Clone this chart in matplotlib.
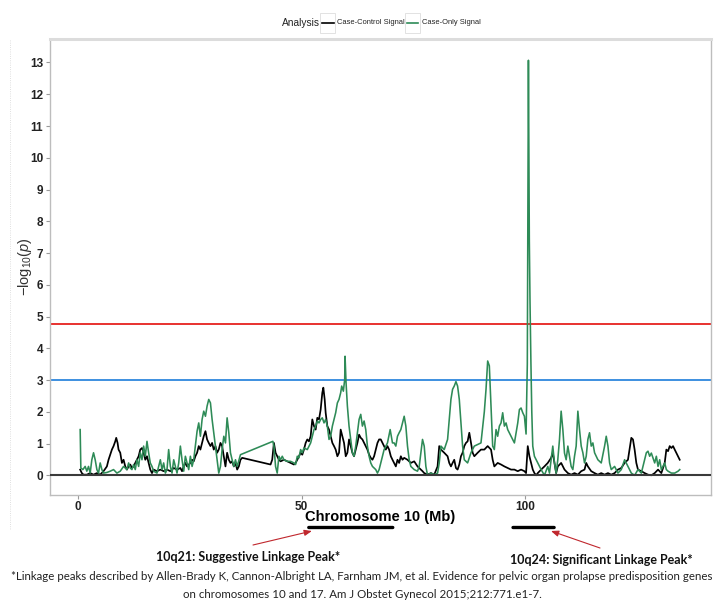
import numpy as np
import matplotlib
matplotlib.use("Agg")
import matplotlib.pyplot as plt
from matplotlib.lines import Line2D
from matplotlib.patches import Rectangle

plt.rcParams['font.family'] = ['Liberation Sans', 'DejaVu Sans']
plt.rcParams['mathtext.fontset'] = 'custom'
plt.rcParams['mathtext.rm'] = 'Liberation Sans'
plt.rcParams['mathtext.it'] = 'Liberation Sans:italic'

# (position in Mb, -log10 p)
case_control = [(0.45,0.18),(0.82,0.07),(1.2,0.02),(1.94,0.02),(2.69,0.07),(3.44,0.02),(4.19,0.07),(4.93,0.02),
    (5.68,0.13),(6.43,0.28),(6.8,0.49),(7.17,0.65),(7.55,0.81),(7.92,0.92),(8.3,1.07),(8.52,1.18),(8.82,1.02),
    (9.04,0.81),(9.42,0.71),(9.79,0.39),(10.16,0.49),(10.54,0.28),(10.91,0.18),(11.29,0.28),(11.66,0.34),
    (12.03,0.23),(12.41,0.28),(12.78,0.39),(13.15,0.49),(13.53,0.6),(13.9,0.81),(14.28,0.86),(14.65,0.71),
    (15.02,0.49),(15.4,0.6),(15.77,0.39),(16.14,0.18),(16.52,0.07),(16.89,0.18),(17.64,0.13),(18.39,0.18),
    (19.13,0.13),(19.88,0.18),(20.63,0.13),(21.38,0.23),(22.12,0.18),(22.87,0.23),(23.24,0.13),(23.62,0.28),
    (23.99,0.39),(24.36,0.28),(25.11,0.39),(25.49,0.49),(25.86,0.44),(26.23,0.6),(26.61,0.71),(26.98,0.92),
    (27.35,0.81),(27.73,1.02),(28.1,1.23),(28.48,1.39),(28.85,1.13),(29.22,1.02),(29.6,0.92),(29.97,1.02),
    (30.34,0.81),(30.72,0.92),(31.09,0.71),(31.46,0.81),(31.84,1.02),(32.21,0.92),(32.59,0.6),(32.96,0.28),
    (33.33,0.71),(33.71,0.49),(34.08,0.39),(34.45,0.44),(34.83,0.28),(35.2,0.39),(35.58,0.18),(35.95,0.28),
    (36.32,0.49),(36.7,0.55),(43.05,0.34),(43.42,0.49),(43.8,1.02),(44.17,0.71),(44.54,0.6),(44.92,0.49),
    (45.29,0.44),(46.04,0.49),(46.79,0.44),(47.53,0.39),(48.28,0.34),(48.65,0.39),(49.03,0.49),(49.4,0.6),
    (49.78,0.71),(50.15,0.65),(50.52,0.81),(50.9,1.02),(51.27,1.13),(51.64,1.07),(52.02,1.23),(52.39,1.76),
    (52.77,1.55),(53.14,1.44),(53.51,1.81),(53.89,1.76),(54.26,2.07),(54.63,2.6),(54.86,2.76),(55.16,2.39),
    (55.38,1.97),(55.75,1.55),(56.13,1.44),(56.5,1.23),(56.88,1.02),(57.25,0.92),(57.62,0.81),(58.0,0.6),
    (58.37,0.71),(58.74,1.44),(59.12,1.23),(59.49,1.02),(59.87,0.6),(60.24,0.71),(60.61,1.13),(60.99,0.92),
    (61.36,0.71),(61.73,0.6),(62.11,0.81),(62.48,1.02),(62.86,1.28),(63.23,1.18),(63.6,1.13),(63.98,1.02),
    (64.35,0.92),(64.72,0.81),(65.1,0.65),(65.47,0.55),(65.85,0.49),(66.22,0.6),(66.59,0.81),(66.97,1.02),
    (67.34,1.13),(67.71,1.13),(68.46,0.92),(68.83,0.81),(69.21,0.92),(69.58,0.81),(69.96,0.6),(70.33,0.49),
    (70.7,0.39),(71.08,0.28),(71.45,0.49),(71.82,0.39),(72.2,0.6),(72.57,0.49),(72.95,0.55),(73.69,0.49),
    (74.44,0.39),(75.19,0.44),(75.93,0.28),(76.68,0.18),(77.05,0.13),(77.43,0.07),(78.18,0.02),(78.92,0.07),
    (79.67,0.02),(80.42,0.28),(80.79,0.92),(81.17,0.81),(81.91,0.71),(82.66,0.6),(83.03,0.39),(83.41,0.28),
    (83.78,0.39),(84.15,0.49),(84.53,0.23),(84.9,0.18),(85.28,0.34),(85.65,0.6),(86.02,0.71),(86.4,0.92),
    (86.77,1.02),(87.14,1.07),(87.52,1.34),(87.89,1.02),(88.27,0.71),(88.64,0.6),(89.39,0.71),(90.13,0.81),
    (90.88,0.81),(91.63,0.92),(92.38,0.81),(92.75,0.49),(93.12,0.28),(93.87,0.39),(94.62,0.34),(95.37,0.28),
    (96.11,0.23),(96.86,0.18),(97.61,0.18),(98.36,0.13),(99.1,0.18),(99.85,0.13),(100.22,0.07),(100.6,0.92),
    (100.97,0.6),(101.35,0.39),(101.72,0.18),(102.09,0.07),(102.47,0.0),(102.84,0.07),(103.59,0.18),
    (104.33,0.28),(105.08,0.39),(105.83,0.55),(106.2,0.71),(106.58,0.39),(106.95,0.07),(107.32,0.28),
    (108.07,0.39),(108.82,0.18),(109.57,0.07),(110.31,0.02),(111.06,0.07),(111.81,0.02),(112.56,0.13),
    (113.3,0.18),(113.68,0.39),(114.05,0.28),(114.8,0.13),(115.55,0.07),(116.29,0.02),(117.04,0.07),
    (117.79,0.02),(118.54,0.07),(119.28,0.02),(120.03,0.07),(120.78,0.18),(121.52,0.23),(122.27,0.39),
    (123.02,0.49),(123.77,1.18),(124.14,1.13),(124.51,0.81),(124.89,0.39),(125.26,0.18),(126.01,0.13),
    (126.76,0.07),(127.5,0.02),(128.25,0.0),(129.0,0.07),(129.75,0.18),(130.49,0.07),(131.24,0.39),
    (131.61,0.81),(131.99,0.76),(132.36,0.92),(132.74,0.86),(133.11,0.92),(133.48,0.81),(134.23,0.6),(134.6,0.49)]

case_only = [(0.45,1.44),(0.6,0.23),(1.05,0.18),(1.57,0.28),(1.94,0.13),(2.32,0.28),(2.69,0.07),(3.06,0.49),
    (3.44,0.71),(3.81,0.49),(4.19,0.18),(4.56,0.07),(4.93,0.39),(5.31,0.18),(5.68,0.07),(6.43,0.09),(7.17,0.13),
    (7.92,0.18),(8.67,0.07),(9.42,0.13),(10.16,0.28),(10.91,0.18),(11.29,0.39),(11.66,0.23),(12.03,0.18),
    (12.41,0.34),(12.78,0.18),(13.15,0.49),(13.53,0.28),(13.9,0.71),(14.28,0.49),(14.65,0.92),(15.02,0.6),
    (15.4,1.07),(15.77,0.71),(16.14,0.39),(16.52,0.28),(16.89,0.13),(17.64,0.07),(18.39,0.49),(18.76,0.18),
    (19.13,0.39),(19.51,0.07),(19.88,0.18),(20.25,0.81),(20.63,0.28),(21.0,0.07),(21.38,0.49),(21.75,0.28),
    (22.12,0.07),(22.5,0.39),(22.87,0.92),(23.24,0.49),(23.62,0.13),(23.99,0.6),(24.36,0.39),(24.74,0.18),
    (25.11,0.6),(25.49,0.28),(25.86,0.49),(26.23,0.92),(26.61,1.39),(26.98,1.65),(27.35,1.23),(27.73,1.76),
    (28.1,2.02),(28.48,1.86),(28.85,2.18),(29.22,2.39),(29.6,2.28),(29.97,1.76),(30.34,1.34),(30.72,0.92),
    (31.09,0.49),(31.46,0.07),(31.84,0.28),(32.21,0.81),(32.59,1.23),(32.96,1.02),(33.33,1.81),(33.71,1.34),
    (34.08,0.71),(34.45,0.49),(34.83,0.28),(35.2,0.49),(35.58,0.28),(36.32,0.65),(43.57,1.07),(43.8,0.92),
    (44.17,0.28),(44.54,0.07),(44.92,0.6),(45.29,0.49),(45.67,0.6),(46.04,0.49),(46.79,0.44),(47.53,0.44),
    (48.28,0.39),(48.65,0.34),(49.03,0.6),(49.4,0.55),(49.78,0.81),(50.15,0.71),(50.52,0.86),(51.27,0.81),
    (52.02,1.02),(52.39,1.23),(52.77,1.44),(53.14,1.55),(53.51,1.71),(53.89,1.65),(54.26,1.76),(54.63,1.81),
    (55.01,1.65),(55.38,1.76),(55.75,1.55),(56.13,1.13),(56.5,1.23),(56.88,1.55),(57.25,1.76),(57.62,1.97),
    (58.0,2.28),(58.37,2.39),(58.74,2.6),(58.97,2.81),(59.34,2.65),(59.64,3.02),(59.72,3.75),(59.94,2.92),
    (60.24,2.18),(60.61,1.55),(60.99,1.13),(61.36,0.71),(61.73,0.6),(62.11,0.92),(62.48,1.34),(62.86,1.76),
    (63.23,1.92),(63.6,1.55),(63.98,1.71),(64.35,1.44),(64.72,0.92),(65.1,0.6),(65.47,0.39),(65.85,0.28),
    (66.22,0.23),(66.59,0.18),(66.97,0.07),(67.34,0.18),(67.71,0.39),(68.09,0.6),(68.46,0.81),(69.21,1.02),
    (69.81,1.44),(70.33,1.02),(70.7,1.02),(71.08,0.92),(71.45,1.23),(71.82,1.34),(72.2,1.44),(72.57,1.65),
    (72.95,1.86),(73.32,1.55),(73.69,0.92),(74.07,0.49),(74.44,0.28),(75.19,0.18),(75.93,0.13),(76.31,0.28),
    (76.68,0.71),(77.05,1.13),(77.43,0.92),(77.8,0.28),(78.18,0.0),(78.92,0.07),(79.67,0.02),(80.42,0.07),
    (80.79,0.39),(81.17,0.92),(81.91,0.81),(82.66,1.13),(83.03,1.76),(83.41,2.39),(83.78,2.71),(84.15,2.81),
    (84.53,2.95),(84.9,2.81),(85.28,2.39),(85.65,1.65),(86.02,0.92),(86.4,0.49),(87.14,0.39),(87.89,0.71),
    (88.64,0.92),(89.39,0.97),(90.13,1.02),(90.88,2.0),(91.26,2.71),(91.63,3.6),(92.0,3.45),(92.38,2.18),
    (92.75,0.92),(93.12,0.81),(93.5,1.44),(93.87,1.23),(94.25,1.55),(94.62,1.65),(94.99,1.97),(95.37,1.55),
    (95.74,1.65),(96.11,1.44),(96.86,1.23),(97.61,1.02),(98.36,1.65),(98.73,2.07),(99.1,2.12),(99.48,1.97),
    (99.85,1.86),(100.22,1.3),(100.5,3.5),(100.75,13.07),(100.85,9.9),(100.95,7.4),(101.1,5.5),(101.3,3.6),
    (101.5,2.0),(101.72,0.92),(102.09,0.6),(102.84,0.39),(103.59,0.18),(104.33,0.0),(105.08,0.28),
    (105.46,0.07),(105.83,0.49),(106.2,0.92),(106.58,0.39),(106.95,0.07),(107.32,0.49),(107.7,1.13),
    (108.07,2.02),(108.45,1.44),(108.82,0.7),(109.19,0.49),(109.57,0.92),(109.94,0.6),(110.31,0.28),
    (110.69,0.18),(111.06,0.6),(111.43,0.92),(111.81,2.02),(112.18,1.44),(112.56,0.92),(112.93,0.71),
    (113.3,0.39),(113.68,0.6),(114.05,1.13),(114.42,1.34),(114.8,0.92),(115.17,1.02),(115.55,0.71),
    (116.29,0.49),(117.04,0.39),(117.79,0.92),(118.16,1.23),(118.54,0.92),(118.91,0.39),(119.28,0.18),
    (120.03,0.28),(120.78,0.07),(121.52,0.18),(122.27,0.49),(123.02,0.28),(123.77,0.07),(124.51,0.0),
    (125.26,0.18),(126.01,0.07),(126.76,0.49),(127.13,0.71),(127.5,0.76),(127.88,0.6),(128.25,0.7),
    (129.0,0.39),(129.37,0.6),(129.75,0.28),(130.12,0.49),(130.49,0.18),(131.24,0.39),(131.61,0.18),
    (131.99,0.13),(132.74,0.07),(133.48,0.07),(134.23,0.13),(134.6,0.18)]

series_names = ["Case-Control Signal", "Case-Only Signal"]
series_colors = ["#000000", "#2e8b57"]
suggestive = 3.0
significant = 4.75
peak_regions = [(51.6, 70.4), (97.3, 106.5)]
peak_labels = ["10q21: Suggestive Linkage Peak*", "10q24: Significant Linkage Peak*"]
footnote = ["*Linkage peaks described by Allen-Brady K, Cannon-Albright LA, Farnham JM, et al. Evidence for pelvic organ prolapse predisposition genes",
            "on chromosomes 10 and 17. Am J Obstet Gynecol 2015;212:771.e1-7."]

W, H = 724, 606
def fx(x):
    return x / W
def fy(y):
    return 1 - y / H

fig = plt.figure(figsize=(W / 100, H / 100), dpi=100)
ax = fig.add_axes([fx(50), fy(495), 661 / W, 456 / H])

for pts, col, lw in zip([case_control, case_only], series_colors, [1.25, 1.15]):
    arr = np.array(pts)
    ax.plot(arr[:, 0], arr[:, 1], color=col, lw=lw, zorder=3)

ax.axhline(0, color="#3a3a3a", lw=1.5, zorder=4)
ax.axhline(significant, color="#e8312f", lw=1.4, zorder=2)
ax.axhline(suggestive, color="#3d8fe0", lw=1.4, zorder=2)

ax.set_xlim(-6.3, 141.6)
ax.set_ylim(-0.62, 13.74)
ax.set_yticks(range(0, 14))
ax.set_xticks([0, 50, 100])
ax.tick_params(length=3, width=0.8, color="#999999", labelsize=8.5, labelcolor="#222222")
ax.tick_params(axis="x", pad=1.5)
ax.tick_params(axis="y", pad=2)
for lab in ax.get_xticklabels() + ax.get_yticklabels():
    lab.set_fontweight("bold")
for s in ["left", "bottom", "right"]:
    ax.spines[s].set_color("#bdbdbd")
    ax.spines[s].set_linewidth(1.0)
ax.spines["top"].set_color("#dcdcdc")
ax.spines["top"].set_linewidth(2.2)

ax.set_ylabel(r"$-\mathrm{log}_{10}(\mathit{p})$", fontsize=10.5, color="#333333")
ax.yaxis.set_label_coords(-0.024, 0.5)
ax.set_xlabel("Chromosome 10 (Mb)", fontsize=10.5, fontweight="bold")
ax.xaxis.set_label_coords(0.5, -0.033)

# legend across the top
fig.text(fx(282), fy(23), "Analysis", fontsize=7.3, va="center", ha="left", color="#222222")
keys = [(320, 337), (405, 422)]
for (kx, tx), name, col in zip(keys, series_names, series_colors):
    fig.patches.append(Rectangle((fx(kx), fy(33)), 15 / W, 20 / H, transform=fig.transFigure,
                                 facecolor="white", edgecolor="#dddddd", lw=0.6))
    fig.lines.append(Line2D([fx(kx + 1.5), fx(kx + 13.5)], [fy(23), fy(23)], transform=fig.transFigure,
                            color=col, lw=1.2))
    fig.text(fx(tx), fy(23), name, fontsize=5.4, va="center", ha="left", color="#222222")

# linkage peaks below the axis
bar_y = fy(527.5)
arrow_tails = [(253, 545), (600, 548)]
label_pos = [(248, 557), (601, 560)]
for (x0, x1), lab, tail, lp, side in zip(peak_regions, peak_labels, arrow_tails, label_pos, [0, 1]):
    ax.annotate("", xy=(x0, bar_y), xytext=(x1, bar_y), xycoords=("data", "figure fraction"),
                arrowprops=dict(arrowstyle="-", lw=2.4, color="black", shrinkA=0, shrinkB=0),
                annotation_clip=False)
    tip = x0 if side == 0 else x1
    ax.annotate("", xy=(tip + (0.7 if side == 0 else -0.7), fy(531)),
                xytext=(fx(tail[0]), fy(tail[1])),
                xycoords=("data", "figure fraction"), textcoords="figure fraction",
                arrowprops=dict(arrowstyle="-|>,head_length=0.45,head_width=0.18", lw=0.8,
                                color="#c0272d", shrinkA=0, shrinkB=0),
                annotation_clip=False)
    fig.text(fx(lp[0]), fy(lp[1]), lab, fontsize=9, fontweight="bold", family="Lato",
             ha="center", va="center", color="#111111")

fig.text(fx(362), fy(577), footnote[0], fontsize=8.3, family="Lato", ha="center", va="center", color="#222222")
fig.text(fx(362), fy(595), footnote[1], fontsize=8.3, family="Lato", ha="center", va="center", color="#222222")

fig.lines.append(Line2D([fx(10), fx(10)], [fy(40), fy(530)], transform=fig.transFigure,
                        color="#d5d5d5", lw=0.6, ls=":"))

fig.savefig("out.png", dpi=100)
